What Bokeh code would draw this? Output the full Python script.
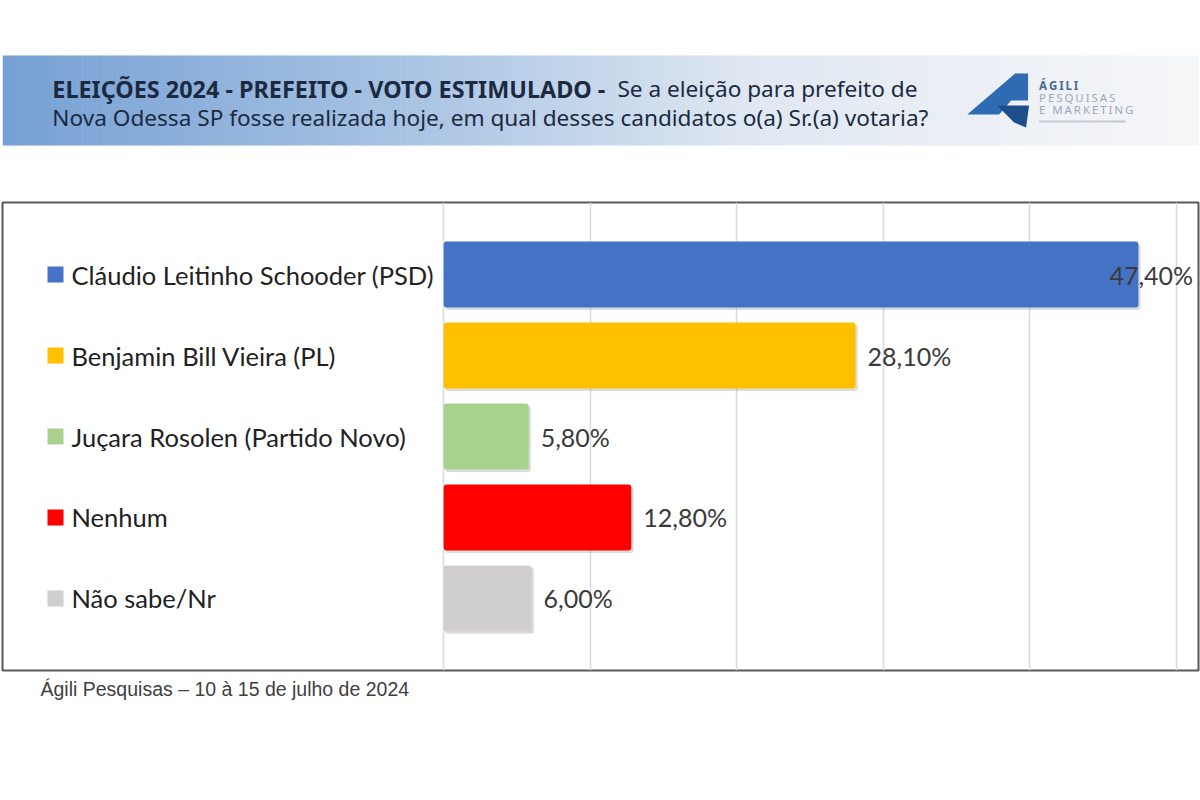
import numpy as np
from bokeh.plotting import figure
from bokeh.models import Range1d, FactorRange, Grid, FixedTicker, Title, ColumnDataSource
from bokeh.transform import dodge
from bokeh.layouts import column
from bokeh.core.properties import value
from bokeh.embed import file_html
from bokeh.resources import INLINE

# ---------------- data ----------------
categories = [
    "Cláudio Leitinho Schooder (PSD)",
    "Benjamin Bill Vieira (PL)",
    "Juçara Rosolen (Partido Novo)",
    "Nenhum",
    "Não sabe/Nr",
]
percentages = [47.4, 28.1, 5.8, 12.8, 6.0]
bar_colors = ["#4472C4", "#FFC000", "#A9D18E", "#FF0000", "#D0CECE"]
grid_ticks = [0, 10, 20, 30, 40, 50]

title_bold = "ELEIÇÕES 2024 - PREFEITO - VOTO ESTIMULADO -"
title_rest1 = "Se a eleição para prefeito de"
title_line2 = "Nova Odessa SP fosse realizada hoje, em qual desses candidatos o(a) Sr.(a) votaria?"
footer_text = "Ágili Pesquisas – 10 à 15 de julho de 2024"
logo_lines = ["ÁGILI", "PESQUISAS", "E MARKETING"]

value_labels = [("%.2f" % v).replace(".", ",") + "%" for v in percentages]

# ---------------- header ----------------
hdr = figure(width=1200, height=190, x_range=Range1d(0, 1200), y_range=Range1d(190, 0),
             x_axis_location=None, y_axis_location=None, output_backend="svg",
             toolbar_location=None, min_border=0, outline_line_color=None,
             background_fill_color="white", border_fill_color="white")
hdr.xgrid.visible = False
hdr.ygrid.visible = False

stops_x = [0, 420, 760, 1200]
stops_rgb = [(118, 160, 212), (170, 197, 228), (226, 233, 243), (246, 247, 249)]
edges = np.linspace(0, 1200, 241)
mids = (edges[:-1] + edges[1:]) / 2
ch = [np.interp(mids, stops_x, [c[i] for c in stops_rgb]) for i in range(3)]
grad = ["#%02x%02x%02x" % (int(r), int(g), int(b)) for r, g, b in zip(*ch)]
hdr.quad(left=edges[:-1], right=edges[1:] + 0.6, top=55, bottom=145,
         fill_color=grad, line_color=None)

tfont = value("Noto Sans")
hdr.text(x=[50], y=[88], text=[title_bold], text_font=tfont, text_font_style="bold",
         text_font_size="23.4px", text_color="#1b2a41", text_baseline="middle")
hdr.text(x=[617], y=[88], text=[title_rest1], text_font=tfont,
         text_font_size="22.6px", text_color="#1b2a41", text_baseline="middle")
hdr.text(x=[50], y=[117], text=[title_line2], text_font=tfont,
         text_font_size="22.6px", text_color="#1b2a41", text_baseline="middle")

# logo (decorative)
hdr.patch(x=[968, 1016, 1029, 1029, 1012, 1000], y=[114, 73, 73, 100, 100, 114],
          fill_color="#2f6bb3", line_color=None)
hdr.patch(x=[998, 1030, 1027, 1015], y=[105, 105, 127, 122],
          fill_color="#1f4e8c", line_color=None)
spaced = ["\u2009".join(s) for s in logo_lines]
hdr.text(x=[1040], y=[85], text=[spaced[0]], text_font=tfont, text_font_style="bold",
         text_font_size="11.5px", text_color="#4a6a8f", text_baseline="middle")
hdr.text(x=[1040, 1040], y=[97, 109], text=spaced[1:], text_font=tfont,
         text_font_size="11.5px", text_color="#9aa9bb", text_baseline="middle")
hdr.segment(x0=[1040], y0=[121], x1=[1127], y1=[121], line_color="#c3cad3", line_width=2)

# ---------------- chart ----------------
X_START, X_END = -30.1, 51.5
FRAME_L, FRAME_W = 2, 1196


def px_to_x(px):
    return X_START + (px - FRAME_L) * (X_END - X_START) / FRAME_W


p = figure(width=1200, height=610,
           x_range=Range1d(X_START, X_END),
           y_range=FactorRange(factors=categories[::-1], range_padding=0.39,
                               range_padding_units="absolute"),
           x_axis_location=None, y_axis_location=None, output_backend="svg",
           toolbar_location=None, min_border_left=2, min_border_right=2,
           min_border_top=12, min_border_bottom=130,
           outline_line_color="#595959", outline_line_width=2,
           background_fill_color="white", border_fill_color="white")
p.xgrid.visible = False
p.ygrid.visible = False
p.add_layout(Grid(dimension=0, ticker=FixedTicker(ticks=grid_ticks),
                  grid_line_color="#d9d9d9", grid_line_width=1.5))

src = ColumnDataSource(dict(cat=categories, val=percentages,
                            shadow=[v + 0.15 for v in percentages], color=bar_colors))

# soft shadow
p.hbar(y=dodge("cat", -0.03, range=p.y_range), left=0.1, right="shadow", height=0.815,
       source=src, fill_color="#9a9a9a", fill_alpha=0.35, line_color=None, border_radius=3)
p.hbar(y="cat", left=0, right="val", height=0.815, source=src,
       fill_color="color", line_color=None, border_radius=3)

lfont = value("Lato")
p.scatter(x=px_to_x(55), y=categories, marker="square", size=16,
          fill_color=bar_colors, line_color=None)
p.text(x=px_to_x(71), y=categories, text=categories, text_font=lfont,
       text_font_size="25.5px", text_color="#222222", text_baseline="middle")

offsets = [-29 if v > 45 else 12 for v in percentages]
p.text(x=percentages, y=categories, text=value_labels, x_offset=offsets,
       text_font=lfont, text_font_size="25px", text_color="#3a3a3a",
       text_baseline="middle")

p.add_layout(Title(text=footer_text, align="left", offset=38, standoff=11,
                   text_font="Liberation Sans", text_font_size="19.5px",
                   text_font_style="normal", text_color="#404040"), "below")

layout = column(hdr, p, spacing=0)
open("out.html", "w").write(file_html(layout, INLINE))
